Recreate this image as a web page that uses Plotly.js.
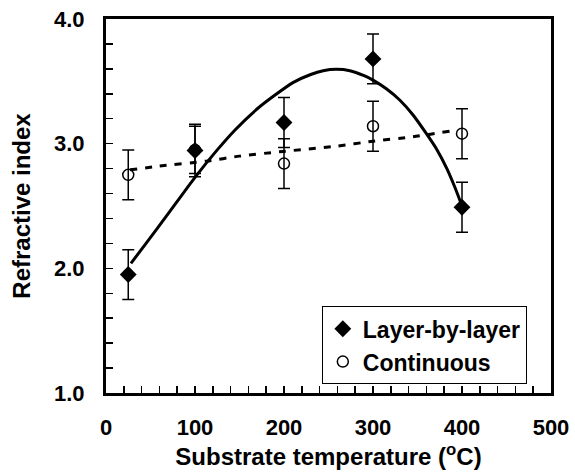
<!DOCTYPE html>
<html>
<head>
<meta charset="utf-8">
<script src="https://cdn.plot.ly/plotly-3.0.1.min.js"></script>
<style>html,body{margin:0;padding:0;background:#fff}</style>
</head>
<body>
<div id="chart" style="width:575px;height:474px"></div>
<script>
// Measured data
var temps = [25, 100, 200, 300, 400];
var layerIdx = [1.95, 2.945, 3.17, 3.68, 2.49];
var layerErr = [0.2, 0.21, 0.2, 0.2, 0.2];
var contIdx = [2.75, 2.95, 2.84, 3.14, 3.08];
var contErr = [0.2, 0.19, 0.2, 0.2, 0.2];

// Trend curves
var layerFitX = [28, 45, 68, 100, 125, 145, 170, 188, 210, 230, 244, 259, 274, 290, 300, 315, 330, 345, 360, 372, 383, 392, 400];
var layerFitY = [2.04, 2.20, 2.42, 2.73, 2.95, 3.11, 3.28, 3.38, 3.49, 3.555, 3.585, 3.596, 3.585, 3.545, 3.51, 3.44, 3.35, 3.23, 3.08, 2.95, 2.80, 2.65, 2.50];
var contFitX = [27, 60, 113, 150, 195, 259, 300, 345, 386];
var contFitY = [2.79, 2.82, 2.86, 2.90, 2.935, 2.98, 3.02, 3.055, 3.10];

var seriesNames = ['Layer-by-layer', 'Continuous'];

var FONT = 'Liberation Sans, Arial, sans-serif';

var traces = [
  {x: layerFitX, y: layerFitY, mode: 'lines', line: {color: '#000', width: 3, shape: 'spline', smoothing: 0.6}, showlegend: false, hoverinfo: 'skip'},
  {x: contFitX, y: contFitY, mode: 'lines', line: {color: '#000', width: 3, dash: '7px,8px', shape: 'spline', smoothing: 0.6}, showlegend: false, hoverinfo: 'skip'},
  {x: temps, y: layerIdx, name: seriesNames[0], mode: 'markers',
   marker: {symbol: 'diamond', size: 13, color: '#000'},
   error_y: {type: 'data', array: layerErr, visible: true, color: '#000', thickness: 1.5, width: 6}},
  {x: temps, y: contIdx, name: seriesNames[1], mode: 'markers',
   marker: {symbol: 'circle-open', size: 11, color: '#000', line: {width: 1.5, color: '#000'}},
   error_y: {type: 'data', array: contErr, visible: true, color: '#000', thickness: 1.5, width: 6}}
];

var layout = {
  width: 575, height: 474,
  margin: {l: 106, r: 24, t: 19, b: 81},
  paper_bgcolor: '#fff', plot_bgcolor: '#fff',
  font: {family: FONT, color: '#000', weight: 'bold'},
  showlegend: true,
  xaxis: {
    range: [0, 500], dtick: 100, tick0: 0,
    showgrid: false, zeroline: false,
    showline: true, linecolor: '#000', linewidth: 3, mirror: true,
    ticks: 'inside', ticklen: 7, tickwidth: 1.5, tickcolor: '#000',
    minor: {dtick: 20, ticks: 'inside', ticklen: 7, tickwidth: 1.5, tickcolor: '#000', showgrid: false},
    ticklabelstandoff: 13,
    tickfont: {family: FONT, size: 22, weight: 'bold', color: '#000'},
    title: {text: 'Substrate temperature (<sup>o</sup>C)', font: {family: FONT, size: 24, weight: 'bold', color: '#000'}, standoff: 0}
  },
  yaxis: {
    range: [1, 4], dtick: 1, tick0: 1, tickformat: '.1f',
    showgrid: false, zeroline: false,
    showline: true, linecolor: '#000', linewidth: 3, mirror: true,
    ticks: 'inside', ticklen: 7, tickwidth: 1.5, tickcolor: '#000',
    minor: {dtick: 0.2, ticks: 'inside', ticklen: 7, tickwidth: 1.5, tickcolor: '#000', showgrid: false},
    ticklabelstandoff: 14,
    tickfont: {family: FONT, size: 22, weight: 'bold', color: '#000'},
    title: {text: 'Refractive index', font: {family: FONT, size: 24, weight: 'bold', color: '#000'}, standoff: 17}
  },
  legend: {
    x: 0.485, y: 0.232, xanchor: 'left', yanchor: 'top',
    bgcolor: '#fff', bordercolor: '#000', borderwidth: 1,
    font: {family: FONT, size: 23, weight: 'bold', color: '#000'},
    tracegroupgap: 0, itemwidth: 30
  }
};

Plotly.newPlot('chart', traces, layout, {staticPlot: true, displayModeBar: false});
</script>
</body>
</html>
